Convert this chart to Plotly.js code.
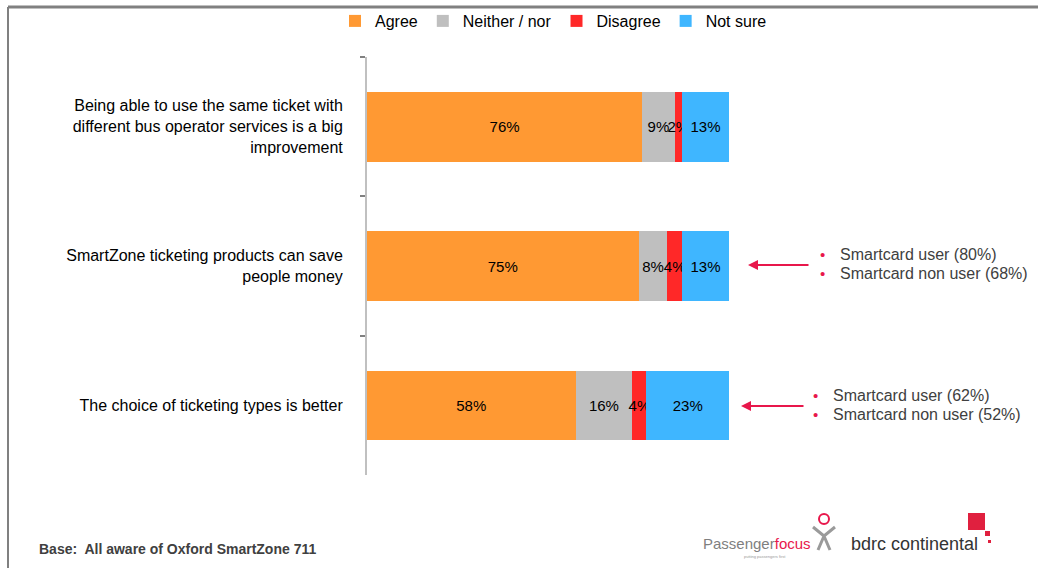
<!DOCTYPE html>
<html>
<head>
<meta charset="utf-8">
<script src="https://cdn.plot.ly/plotly-3.0.1.min.js"></script>
<style>html,body{margin:0;padding:0;background:#fff;}#chart{width:1038px;height:568px;}</style>
</head>
<body>
<div id="chart"></div>
<script>
const categories = [
  "Being able to use the same ticket with<br>different bus operator services is a big<br>improvement",
  "SmartZone ticketing products can save<br>people money",
  "The choice of ticketing types is better"
];
const seriesNames = ["Agree", "Neither / nor", "Disagree", "Not sure"];
const seriesColors = ["#FF9933", "#BFBFBF", "#FF2828", "#3FB6FF"];
const agree    = [76, 75, 57.6];
const neither  = [9, 8, 15.7];
const disagree = [2, 4, 3.9];
const notSure  = [13, 13, 22.8];
const seriesValues = [agree, neither, disagree, notSure];
const subgroupNotes = [
  null,
  ["Smartcard user (80%)", "Smartcard non user (68%)"],
  ["Smartcard user (62%)", "Smartcard non user (52%)"]
];
const baseNote = "Base:  All aware of Oxford SmartZone 711";

const W = 1038, H = 568;
const mL = 367, mR = 309, mT = 57, mB = 93;
const pw = W - mL - mR, ph = H - mT - mB;
const px = x => (x - mL) / pw;
const py = y => 1 - (y - mT) / ph;

const traces = seriesValues.map((vals, i) => ({
  type: "bar",
  orientation: "h",
  name: seriesNames[i],
  y: categories,
  x: vals,
  marker: {color: seriesColors[i], line: {width: 0}},
  text: vals.map(v => Math.round(v) + "%"),
  texttemplate: "%{text}",
  textposition: "inside",
  insidetextanchor: "middle",
  textangle: 0,
  constraintext: "none",
  insidetextfont: {family: "Liberation Sans, Arial, sans-serif", size: 15, color: "#000"},
  hoverinfo: "skip",
  cliponaxis: false
}));

const annotations = [];
const shapes = [];
const arrowColor = "#E8174B";
const noteGeom = [null, {y: 265, tail: 810, head: 748, bullet: 822, text: 838}, {y: 406, tail: 805, head: 741, bullet: 815, text: 831}];
subgroupNotes.forEach((notes, i) => {
  if (!notes) return;
  const g = noteGeom[i];
  annotations.push({
    xref: "paper", yref: "paper", axref: "pixel", ayref: "pixel",
    x: px(g.head), y: py(g.y), ax: g.tail - g.head, ay: 0,
    showarrow: true, arrowhead: 2, arrowsize: 1, arrowwidth: 2, arrowcolor: arrowColor, text: ""
  });
  notes.forEach((t, j) => {
    const yy = g.y - 11 + j * 19;
    annotations.push({xref: "paper", yref: "paper", x: px(g.bullet), y: py(yy), xanchor: "center", yanchor: "middle",
      text: "•", showarrow: false, font: {family: "Liberation Sans, Arial", size: 15, color: arrowColor}});
    annotations.push({xref: "paper", yref: "paper", x: px(g.text), y: py(yy), xanchor: "left", yanchor: "middle",
      text: t, showarrow: false, font: {family: "Liberation Sans, Arial", size: 16, color: "#404040"}});
  });
});

annotations.push({xref: "paper", yref: "paper", x: px(37), y: py(549), xanchor: "left", yanchor: "middle",
  text: "<b>" + baseNote + "</b>", showarrow: false, font: {family: "Liberation Sans, Arial", size: 14, color: "#404040"}});

// logos as text
annotations.push({xref: "paper", yref: "paper", x: px(701), y: py(543), xanchor: "left", yanchor: "middle",
  text: "<span style='color:#7f7f7f'>Passenger</span><span style='color:#E8174B'>focus</span>", showarrow: false,
  font: {family: "Liberation Sans, Arial", size: 15}});
annotations.push({xref: "paper", yref: "paper", x: px(742), y: py(556), xanchor: "left", yanchor: "middle",
  text: "putting passengers first", showarrow: false, font: {family: "Liberation Sans, Arial", size: 4, color: "#999"}});
annotations.push({xref: "paper", yref: "paper", x: px(849), y: py(544), xanchor: "left", yanchor: "middle",
  text: "bdrc continental", showarrow: false, font: {family: "Liberation Sans, Arial", size: 18, color: "#333"}});

// frame lines
shapes.push({type: "line", xref: "paper", yref: "paper", x0: px(8), x1: px(1038), y0: py(7), y1: py(7), line: {color: "#808080", width: 3}});
shapes.push({type: "line", xref: "paper", yref: "paper", x0: px(8), x1: px(8), y0: py(7), y1: py(568), line: {color: "#808080", width: 2}});
// logo squares
shapes.push({type: "rect", xref: "paper", yref: "paper", x0: px(968), x1: px(985), y0: py(513), y1: py(530), fillcolor: "#E0203F", line: {width: 0}});
shapes.push({type: "rect", xref: "paper", yref: "paper", x0: px(985), x1: px(990), y0: py(531), y1: py(536), fillcolor: "#E0203F", line: {width: 0}});
shapes.push({type: "rect", xref: "paper", yref: "paper", x0: px(988), x1: px(991), y0: py(540), y1: py(543), fillcolor: "#E0203F", line: {width: 0}});
// logo figure (simple)
shapes.push({type: "circle", xref: "paper", yref: "paper", x0: px(819), x1: px(829), y0: py(514), y1: py(524), line: {color: "#E8174B", width: 2}});
shapes.push({type: "path", xref: "paper", yref: "paper",
  path: `M ${px(813)} ${py(527)} L ${px(824)} ${py(536)} L ${px(835)} ${py(527)} M ${px(824)} ${py(536)} L ${px(818)} ${py(550)} M ${px(824)} ${py(536)} L ${px(830)} ${py(550)}`,
  line: {color: "#9a9a9a", width: 3}});

const layout = {
  width: W, height: H,
  margin: {l: mL, r: mR, t: mT, b: mB, pad: 0, autoexpand: false},
  paper_bgcolor: "#fff", plot_bgcolor: "#fff",
  barmode: "stack",
  bargap: 0.5,
  font: {family: "Liberation Sans, Arial, sans-serif", size: 16, color: "#000"},
  showlegend: true,
  legend: {orientation: "h", x: px(772), xref: "paper", xanchor: "right", y: py(21), yref: "paper", yanchor: "middle",
    bgcolor: "rgba(0,0,0,0)", font: {size: 16, color: "#000"}, traceorder: "normal", itemclick: false, itemwidth: 30, tracegroupgap: 0},
  xaxis: {range: [0, 100], visible: false, fixedrange: true},
  yaxis: {
    type: "category", autorange: false, range: [2.5, -0.5],
    showline: true, linecolor: "#C0C0C0", linewidth: 2,
    ticks: "outside", tickson: "boundaries", ticklen: 5, tickcolor: "#808080", tickwidth: 2,
    showgrid: false, zeroline: false, automargin: false,
    tickfont: {size: 16, color: "#000"},
    ticklabelstandoff: 19,
    fixedrange: true
  },
  annotations: annotations,
  shapes: shapes
};

Plotly.newPlot("chart", traces, layout, {displayModeBar: false, staticPlot: true});
</script>
</body>
</html>
